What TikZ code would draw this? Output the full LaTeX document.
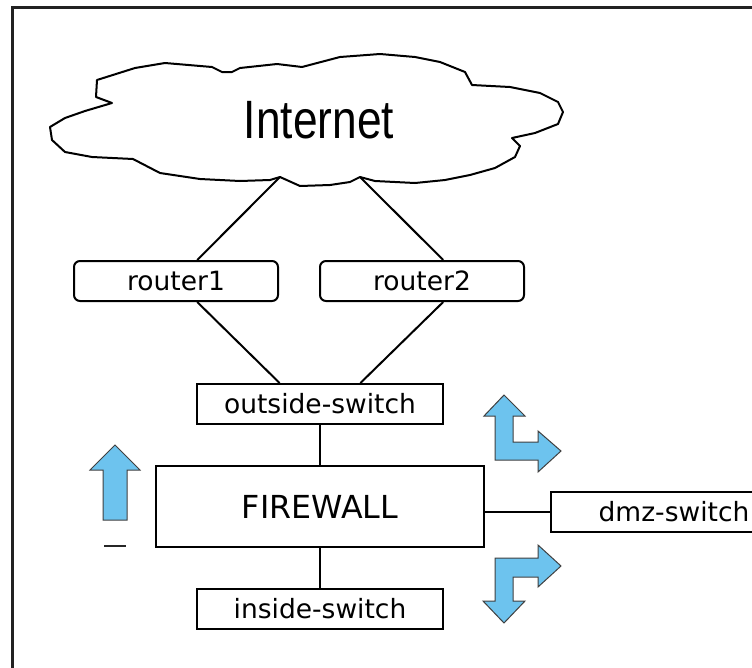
\documentclass[tikz,border=0pt]{standalone}
\usepackage{fontspec}
\setmainfont{DejaVu Sans}
\newfontfamily\cloudfont[FakeStretch=0.82]{Liberation Sans}
\usetikzlibrary{calc}
\definecolor{arrowblue}{HTML}{6DC3EE}
\definecolor{framegray}{HTML}{222222}
\begin{document}
\begin{tikzpicture}[x=1pt,y=-1pt,
  box/.style={draw=black, line width=2pt, fill=white, minimum width=246pt,
    minimum height=40pt, inner sep=0pt, font=\fontsize{26.5}{30}\selectfont},
  routerbox/.style={box, minimum width=204pt, rounded corners=6pt},
  fwbox/.style={box, minimum width=328pt, minimum height=81pt,
    font=\fontsize{31.7}{36}\selectfont},
  link/.style={line width=2pt},
  bigarrow/.style={fill=arrowblue, draw=black!75, line width=1pt, line join=miter}]
\useasboundingbox (0,0) rectangle (752,667);
\clip (0,0) rectangle (752,667);
\fill[white] (0,0) rectangle (752,667);

% outer frame
\draw[framegray, line width=3pt] (12,700) -- (12,7.5) -- (800,7.5);

% cloud
\draw[line width=2pt, line join=round, fill=white]
  (112,103) -- (96,97) -- (97,80) -- (135,68) -- (165,63) -- (212,67) --
  (222,72) -- (232,72) -- (240,68) -- (277,64) -- (302,67) -- (340,57) --
  (380,54) -- (415,57) -- (440,62) -- (465,72) -- (472,85) -- (510,87) --
  (540,93) -- (558,102) -- (563,112) -- (558,124) -- (535,133) -- (512,138) --
  (520,146) -- (515,157) -- (495,168) -- (470,175) -- (445,180) -- (415,183) --
  (375,181) -- (360,177) -- (350,182) -- (330,185) -- (300,186) -- (280,177) --
  (270,180) -- (240,181) -- (200,179) -- (160,173) -- (133,159) -- (92,157) --
  (65,152) -- (52,140) -- (50,127) -- (65,118) -- (85,111) -- cycle;
\node (inet) at (319,120) {\cloudfont\fontsize{54}{56}\selectfont Internet};
\coordinate (c1) at (280,177);
\coordinate (c2) at (360,177);

% devices
\node[routerbox] (r1) at (176,281) {router1};
\node[routerbox] (r2) at (422,281) {router2};
\node[box] (osw) at (320,404) {outside-switch};
\node[fwbox] (fw) at (320,506.5) {FIREWALL};
\node[box] (isw) at (320,609) {inside-switch};
\node[box] (dmz) at (674,512) {dmz-switch};

% links
\draw[link] (c1) -- ($(r1.north west)!0.603!(r1.north east)$);
\draw[link] (c2) -- ($(r2.north west)!0.603!(r2.north east)$);
\draw[link] ($(r1.south west)!0.603!(r1.south east)$) -- ($(osw.north west)!0.337!(osw.north east)$);
\draw[link] ($(r2.south west)!0.603!(r2.south east)$) -- ($(osw.north west)!0.663!(osw.north east)$);
\draw[link] (osw.south) -- (fw.north);
\draw[link] (fw.south) -- (isw.north);
\draw[link] (fw.east |- dmz.west) -- (dmz.west);

% traffic arrows
\draw[bigarrow] (115,445) -- (140,470) -- (127,470) -- (127,520) -- (103,520)
  -- (103,470) -- (90,470) -- cycle;
\draw[line width=2pt, black!85] (104,545.5) -- (126,545.5);
\draw[bigarrow] (504,395) -- (525,416) -- (513,416) -- (513,442) -- (538,442)
  -- (538,431) -- (561,451) -- (538,472) -- (538,460) -- (495,460) -- (495,416)
  -- (484,416) -- cycle;
\draw[bigarrow] (561,566) -- (538,587) -- (538,577) -- (513,577) -- (513,601)
  -- (525,601) -- (504,623) -- (483,601) -- (495,601) -- (495,558) -- (538,558)
  -- (538,545) -- cycle;
\end{tikzpicture}
\end{document}
